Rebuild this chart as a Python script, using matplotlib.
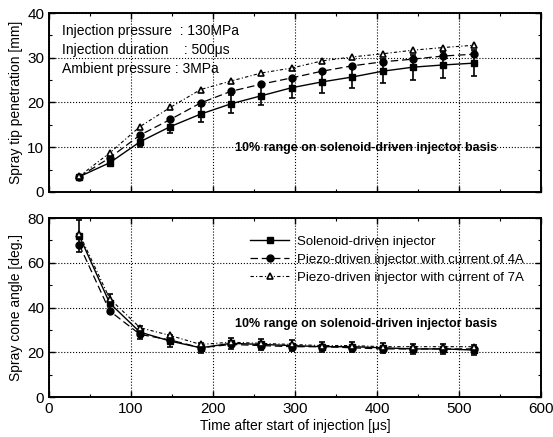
import numpy as np
import matplotlib
matplotlib.use("Agg")
import matplotlib.pyplot as plt

plt.rcParams['font.family'] = ['Liberation Sans', 'DejaVu Sans']

# time after start of injection [us]
time_us = [37, 74, 111, 148, 185, 222, 259, 296, 333, 370, 407, 444, 481, 518]

# spray tip penetration [mm]
pen_solenoid = [3.4, 6.5, 11.2, 14.6, 17.4, 19.7, 21.5, 23.3, 24.6, 25.7, 27.0, 27.9, 28.4, 28.8]
pen_piezo4a = [3.4, 7.6, 12.7, 16.2, 19.9, 22.5, 24.1, 25.5, 27.0, 28.2, 29.1, 29.7, 30.4, 30.8]
pen_piezo7a = [3.5, 8.7, 14.6, 18.9, 22.9, 24.8, 26.6, 27.7, 29.3, 30.2, 30.9, 31.7, 32.3, 32.8]

# spray cone angle [deg.]
cone_solenoid = [72.0, 42.0, 29.0, 25.0, 22.0, 24.0, 23.5, 23.0, 22.5, 22.5, 22.0, 21.5, 21.5, 21.0]
cone_piezo4a = [68.0, 38.5, 28.0, 25.5, 22.0, 23.5, 23.0, 22.5, 22.5, 22.0, 21.5, 21.5, 21.5, 21.5]
cone_piezo7a = [73.0, 44.0, 31.0, 27.5, 23.5, 24.5, 24.0, 23.5, 23.0, 23.0, 22.5, 22.5, 22.5, 22.5]

labels = ['Solenoid-driven injector',
          'Piezo-driven injector with current of 4A',
          'Piezo-driven injector with current of 7A']

conditions = ['Injection pressure  : 130MPa',
              'Injection duration    : 500\u03bcs',
              'Ambient pressure : 3MPa']

fig = plt.figure(figsize=(5.53, 4.37), dpi=100)
ax1 = fig.add_axes([0.0886, 0.561, 0.8894, 0.409])
ax2 = fig.add_axes([0.0886, 0.0915, 0.8894, 0.4095])


def draw(ax, sol, p4, p7, ytext):
    sol = np.array(sol)
    ax.errorbar(time_us, sol, yerr=0.1 * sol, fmt='none', ecolor='k',
                elinewidth=1.2, capsize=2, capthick=1.2, zorder=3)
    ax.plot(time_us, sol, '-', color='k', lw=1.0, marker='s', ms=5,
            mfc='k', mec='k', label=labels[0], zorder=4)
    ax.plot(time_us, p4, color='k', lw=0.9, ls=(0, (6, 3)), marker='o', ms=5,
            mfc='k', mec='k', label=labels[1], zorder=4)
    ax.plot(time_us, p7, color='k', lw=0.8, ls=(0, (3, 2, 1, 2)), marker='^', ms=5,
            mfc='white', mec='k', mew=1.2, label=labels[2], zorder=5)
    ax.set_xlim(0, 600)
    ax.grid(True, which='major', ls=':', color='k', lw=0.8)
    ax.set_xticks(np.arange(0, 601, 100))
    ax.set_xticks(np.arange(0, 601, 50), minor=True)
    ax.tick_params(which='both', direction='in', top=True, right=True, labelsize=11)
    ax.tick_params(which='major', length=4, width=1.0)
    ax.tick_params(which='minor', length=2, width=0.8)
    for s in ax.spines.values():
        s.set_linewidth(1.4)
    ax.text(0.645, ytext, '10% range on solenoid-driven injector basis',
            transform=ax.transAxes, ha='center', va='center', fontsize=9,
            fontweight='bold')


draw(ax1, pen_solenoid, pen_piezo4a, pen_piezo7a, 0.245)
ax1.set_ylim(0, 40)
ax1.set_yticks(np.arange(0, 41, 10))
ax1.set_yticks(np.arange(0, 41, 5), minor=True)
ax1.set_ylabel('Spray tip penetration [mm]', fontsize=10, labelpad=3)
ax1.tick_params(labelbottom=False)
for i, t in enumerate(conditions):
    ax1.text(0.027, 0.9 - i * 0.105, t, transform=ax1.transAxes, fontsize=10,
             ha='left', va='center')

draw(ax2, cone_solenoid, cone_piezo4a, cone_piezo7a, 0.41)
ax2.set_ylim(0, 80)
ax2.set_yticks(np.arange(0, 81, 20))
ax2.set_yticks(np.arange(0, 81, 10), minor=True)
ax2.set_ylabel('Spray cone angle [deg.]', fontsize=10, labelpad=3)
ax2.set_xlabel('Time after start of injection [\u03bcs]', fontsize=10, labelpad=2)
ax2.legend(loc='upper right', bbox_to_anchor=(0.985, 0.955), frameon=False, fontsize=9.5,
           handlelength=3.0, handletextpad=0.6, labelspacing=0.45, borderaxespad=0.3)

fig.savefig('out.png', dpi=100)
